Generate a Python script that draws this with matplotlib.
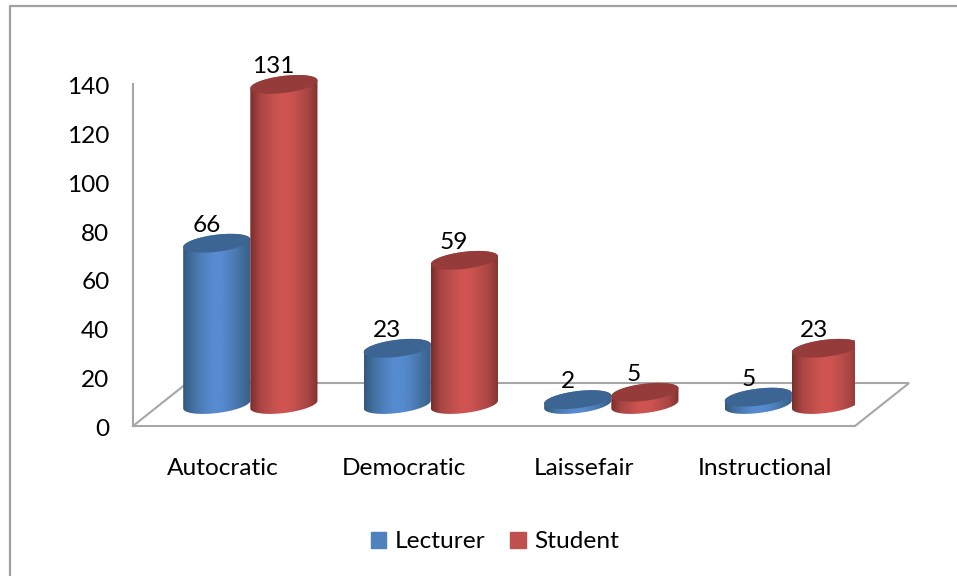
import matplotlib
matplotlib.use("Agg")
import matplotlib.pyplot as plt
import numpy as np
from matplotlib.colors import LinearSegmentedColormap
from matplotlib.lines import Line2D
from matplotlib.patches import Patch, Polygon
from matplotlib.transforms import ScaledTranslation

categories = ["Autocratic", "Democratic", "Laissefair", "Instructional"]
lecturer = [66, 23, 2, 3]  # last bar is drawn lower than its printed label
lecturer_labels = ["66", "23", "2", "5"]
student = [131, 59, 5, 23]
student_labels = ["131", "59", "5", "23"]
yticks = [0, 20, 40, 60, 80, 100, 120, 140]

plt.rcParams["font.family"] = ["Lato", "DejaVu Sans"]
FS = 17.6
GREY = "#a6a6a6"

# floor depth in data units
depth_x = 0.3
depth_y = 17.6
bar_w = 0.372
ell_b = 3.5
ell_s = 1.6

blue_cmap = LinearSegmentedColormap.from_list("b", ["#34597f", "#42709f", "#4f80bd", "#568bd0", "#568bd0", "#4f80bd", "#42709f", "#385f89"])
red_cmap = LinearSegmentedColormap.from_list("r", ["#7a2e2c", "#a84543", "#bc4e4b", "#cf5451", "#cf5451", "#bc4e4b", "#a84543", "#82322f"])


def cylinder(ax, x, val, cmap, top_col, z):
    a = bar_w / 2
    y0 = depth_y / 2
    y1 = y0 + val
    t = np.linspace(0, np.pi, 60)
    # upper half of top ellipse, right to left
    top = np.column_stack([x + a * np.cos(t), y1 + ell_b * np.sin(t) + ell_s * np.cos(t)])
    # lower half of bottom ellipse, left to right
    low = np.column_stack([x + a * np.cos(t + np.pi), y0 + ell_b * np.sin(t + np.pi) + ell_s * np.cos(t + np.pi)])
    outline = Polygon(np.vstack([top, low]), closed=True, fc="none", ec="none", transform=ax.transData)
    ax.add_patch(outline)
    grad = np.linspace(0, 1, 128).reshape(1, -1)
    im = ax.imshow(grad, extent=[x - a, x + a, y0 - 6, y1 + 6], cmap=cmap, aspect="auto", zorder=z)
    im.set_clip_path(outline)
    t2 = np.linspace(0, 2 * np.pi, 120)
    ax.add_patch(Polygon(np.column_stack([x + a * np.cos(t2), y1 + ell_b * np.sin(t2) + ell_s * np.cos(t2)]),
                         closed=True, fc=top_col, ec="none", zorder=z + 0.1))


fig = plt.figure(figsize=(9.57, 5.76), dpi=100)
ax = fig.add_axes([133 / 957, 1 - 426 / 576, 722 / 957, (426 - 59.5) / 576])
ax.set_xlim(-0.5, 3.5)
ax.set_ylim(0, 150)

# floor and walls
xb = [-0.5, 3.5, 3.5 + depth_x, -0.5 + depth_x, -0.5]
yb = [0, 0, depth_y, depth_y, 0]
ax.plot(xb, yb, color=GREY, lw=1.5, clip_on=False, zorder=1, solid_joinstyle="miter")

for i in range(len(categories)):
    cx = i + depth_x / 2
    cylinder(ax, cx - bar_w / 2, lecturer[i], blue_cmap, "#3d6593", 3 + i)
    cylinder(ax, cx + bar_w / 2, student[i], red_cmap, "#953b39", 3.5 + i)
    ax.annotate(lecturer_labels[i], (cx - bar_w / 2, depth_y / 2 + lecturer[i]), xytext=(-10, 18),
                textcoords="offset pixels", ha="center", va="center", fontsize=FS, zorder=20)
    ax.annotate(student_labels[i], (cx + bar_w / 2, depth_y / 2 + student[i]), xytext=(-11, 18),
                textcoords="offset pixels", ha="center", va="center", fontsize=FS, zorder=20)

ax.set_xlim(-0.5, 3.5)
ax.set_ylim(0, 150)
ax.set_xticks(range(len(categories)))
ax.set_xticklabels(categories, fontsize=FS)
ax.set_yticks(yticks)
ax.tick_params(axis="x", length=0, pad=23)
ax.tick_params(axis="y", length=0, pad=17, labelsize=FS)
# nudge value labels down a pixel
for lab in ax.get_yticklabels():
    lab.set_transform(lab.get_transform() + ScaledTranslation(0, -1.5 / 100, fig.dpi_scale_trans))
for s in ["top", "right", "bottom"]:
    ax.spines[s].set_visible(False)
ax.spines["left"].set_bounds(0, 140)
ax.spines["left"].set_color(GREY)
ax.spines["left"].set_linewidth(1.5)
ax.patch.set_alpha(0)

handles = [Patch(color="#4f81bd", label="Lecturer"), Patch(color="#c0504d", label="Student")]
fig.legend(handles=handles, loc="center", bbox_to_anchor=(495 / 957, 1 - 542 / 576), ncol=2, frameon=False,
           fontsize=FS, handlelength=0.64, handleheight=0.64, handletextpad=0.35, columnspacing=1.0)

# outer chart frame, only left and top fall inside the crop
fig.add_artist(Line2D([10 / 957, 10 / 957, 1], [0, 1 - 6 / 576, 1 - 6 / 576], color="#a0a0a0", lw=1.6))

fig.savefig("out.png", dpi=100)
